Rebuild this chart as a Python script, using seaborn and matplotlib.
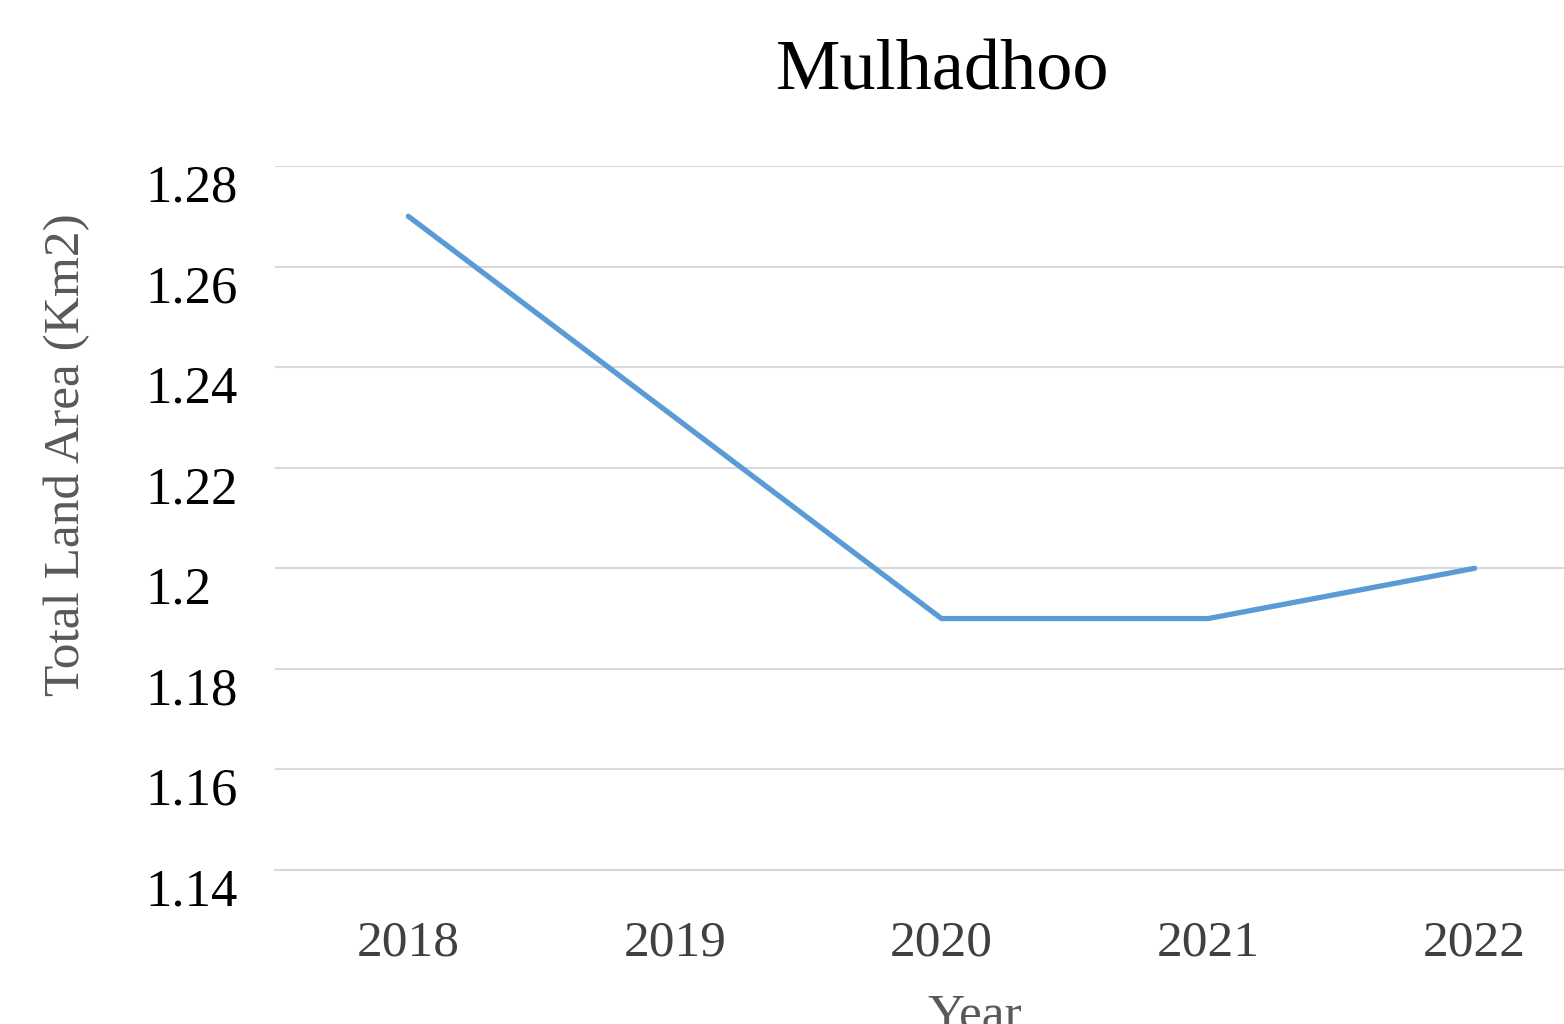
import matplotlib
matplotlib.use("Agg")
import matplotlib.pyplot as plt
import matplotlib.transforms as mtransforms
import seaborn as sns
import pandas as pd

# data
years = ["2018", "2019", "2020", "2021", "2022"]
land_area = [1.27, 1.23, 1.19, 1.19, 1.20]
y_ticks = [1.14, 1.16, 1.18, 1.2, 1.22, 1.24, 1.26, 1.28]
y_tick_labels = ["1.14", "1.16", "1.18", "1.2", "1.22", "1.24", "1.26", "1.28"]

df = pd.DataFrame({"Year": years, "Area": land_area})

sns.set_theme(style="white")
plt.rcParams["font.family"] = ["Liberation Serif", "DejaVu Serif"]

fig = plt.figure(figsize=(15.64, 10.24), dpi=100)
# plot area runs a bit past the right edge, like the cropped original
ax = fig.add_axes([275 / 1564, 1 - 870 / 1024, (1608 - 275) / 1564, (870 - 166) / 1024])

sns.lineplot(data=df, x="Year", y="Area", ax=ax, color="#5B9BD5", linewidth=3.8, sort=False)

ax.set_xlim(-0.5, len(years) - 0.5)
ax.set_ylim(1.14, 1.28)
ax.set_yticks(y_ticks)
ax.set_yticklabels(y_tick_labels)
ax.grid(axis="y", color="#D9D9D9", linewidth=1.5)
ax.grid(axis="x", visible=False)
for side in ["top", "right", "left"]:
    ax.spines[side].set_visible(False)
ax.spines["bottom"].set_color("#D9D9D9")
ax.spines["bottom"].set_linewidth(1.5)
# labels are left-aligned at x ~145 px in the original
ax.tick_params(axis="y", labelsize=38, labelcolor="#000000", length=0, pad=(275 - 145) * 0.72)
ax.tick_params(axis="x", labelsize=37, labelcolor="#404040", length=0, pad=36)

# y tick labels sit a little below their gridlines in the original
shift = mtransforms.ScaledTranslation(0, -0.17, fig.dpi_scale_trans)
for lbl in ax.get_yticklabels():
    lbl.set_horizontalalignment("left")
    lbl.set_transform(lbl.get_transform() + shift)

ax.set_xlabel("Year", fontsize=37, color="#595959")
ax.xaxis.set_label_coords((975 - 275) / (1608 - 275), -0.175)
ax.set_ylabel("Total Land Area (Km2)", fontsize=37, color="#595959")
ax.yaxis.set_label_coords(-(275 - 90) / (1608 - 275), 0.59)

fig.text(943 / 1564, 1 - 72 / 1024, "Mulhadhoo", fontsize=52, color="#000000",
         ha="center", va="center")

fig.savefig("out.png", dpi=100)
